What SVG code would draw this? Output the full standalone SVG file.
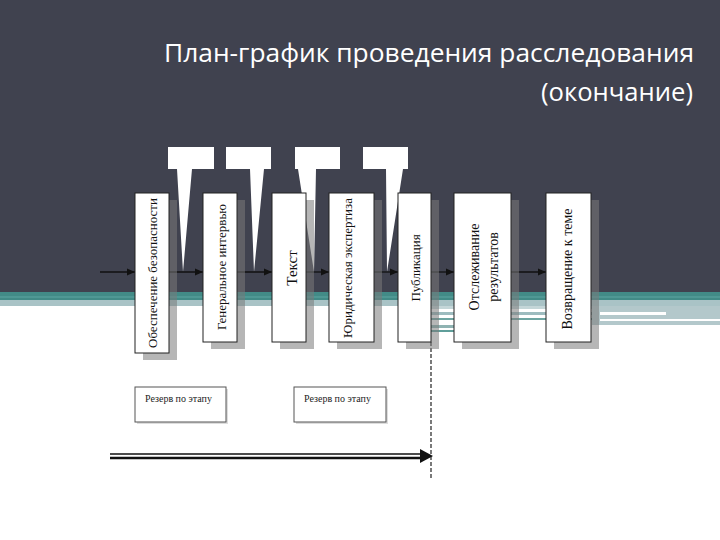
<svg xmlns="http://www.w3.org/2000/svg" width="720" height="540" viewBox="0 0 720 540">
<defs>
<marker id="ah" markerWidth="9" markerHeight="8" refX="8" refY="4" orient="auto" markerUnits="userSpaceOnUse">
<path d="M0,0.5 L8,4 L0,7.5 Z" fill="#111"/>
</marker>
<style>
.box{fill:#fff;stroke:#222;stroke-width:1}
.sh{fill:#7a7a7a;opacity:0.55}
.lbl{font-family:"Liberation Serif","Times New Roman",serif;font-size:13px;fill:#111;text-anchor:middle;dominant-baseline:central}
.co{fill:#fff}
.conn{stroke:#111;stroke-width:1.3;fill:none}
.res{fill:#fff;stroke:#555;stroke-width:1}
.rl{font-family:"Liberation Serif","Times New Roman",serif;font-size:10px;fill:#222}
</style>
</defs>
<rect width="720" height="540" fill="#fff"/>
<g id="background">
<rect x="0" y="0" width="720" height="292" fill="#40424f"/>
<rect x="0" y="292" width="720" height="8" fill="#428b87"/>
<rect x="0" y="296" width="720" height="2" fill="#4f9894"/>
<rect x="0" y="300" width="720" height="6" fill="#a9c3c6"/>
<rect x="431" y="306" width="161" height="3" fill="#c4d6d8"/>
<rect x="431" y="312" width="161" height="3" fill="#9dbcbf"/>
<rect x="431" y="318" width="161" height="2" fill="#6ea5a1"/>
<rect x="431" y="325" width="80" height="3" fill="#8fb3b2"/>
<rect x="431" y="330" width="80" height="2" fill="#5f9e9a"/>
<rect x="592" y="306" width="128" height="19" fill="#b3c8cb"/>
<rect x="600" y="312" width="66" height="3" fill="#fff"/>
<rect x="600" y="319" width="120" height="2" fill="#fff"/>
</g>
<g id="title" font-family="'Open Sans','DejaVu Sans',sans-serif" font-size="26" fill="#fff">
<text x="164" y="62" textLength="530" lengthAdjust="spacingAndGlyphs">План-график проведения расследования</text>
<text x="541" y="101" textLength="152" lengthAdjust="spacingAndGlyphs">(окончание)</text>
</g>
<g id="callouts">
<path class="co" d="M168,147 H214 V169 H192 L183,272 L177,169 H168 Z"/>
<path class="co" d="M226,147 H271 V169 H264 L254,272 L250,169 H226 Z"/>
<path class="co" d="M295,147 H340 V169 H316 L314,272 L298,169 H295 Z"/>
<path class="co" d="M363,147 H408 V169 H403 L387,272 L386,169 H363 Z"/>
</g>
<g id="connectors">
<line class="conn" x1="100" y1="272" x2="135" y2="272" marker-end="url(#ah)"/>
<line class="conn" x1="169" y1="272" x2="203" y2="272" marker-end="url(#ah)"/>
<line class="conn" x1="237" y1="272" x2="272" y2="272" marker-end="url(#ah)"/>
<line class="conn" x1="306" y1="272" x2="329" y2="272" marker-end="url(#ah)"/>
<line class="conn" x1="374" y1="272" x2="398" y2="272" marker-end="url(#ah)"/>
<line class="conn" x1="431" y1="272" x2="454" y2="272" marker-end="url(#ah)"/>
<line class="conn" x1="511" y1="272" x2="546" y2="272" marker-end="url(#ah)"/>
<line x1="431" y1="342" x2="431" y2="480" stroke="#222" stroke-width="1.2" stroke-dasharray="4 2"/>
<line x1="110" y1="454" x2="424" y2="454" stroke="#111" stroke-width="1.5"/>
<line x1="110" y1="458" x2="424" y2="458" stroke="#111" stroke-width="2.5"/>
<path d="M420,449 L433,456 L420,463 Z" fill="#111"/>
</g>
<g id="n1">
<rect class="sh" x="143" y="200" width="34" height="160"/>
<rect class="box" x="135" y="193" width="34" height="160"/>
<text class="lbl" transform="translate(152,273) rotate(-90)">Обеспечение безопасности</text>
</g>
<g id="n2">
<rect class="sh" x="211" y="200" width="34" height="149"/>
<rect class="box" x="203" y="193" width="34" height="149"/>
<text class="lbl" transform="translate(221,267) rotate(-90)">Генеральное интервью</text>
</g>
<g id="n3">
<rect class="sh" x="280" y="200" width="34" height="149"/>
<rect class="box" x="272" y="193" width="34" height="149"/>
<text class="lbl" style="font-size:15px" transform="translate(292,268) rotate(-90)">Текст</text>
</g>
<g id="n4">
<rect class="sh" x="337" y="200" width="45" height="149"/>
<rect class="box" x="329" y="193" width="45" height="149"/>
<text class="lbl" transform="translate(347,268) rotate(-90)">Юридическая экспертиза</text>
</g>
<g id="n5">
<rect class="sh" x="406" y="200" width="33" height="149"/>
<rect class="box" x="398" y="193" width="33" height="149"/>
<text class="lbl" transform="translate(415,268) rotate(-90)">Публикация</text>
</g>
<g id="n6">
<rect class="sh" x="462" y="200" width="57" height="149"/>
<rect class="box" x="454" y="193" width="57" height="149"/>
<text class="lbl" style="font-size:14px" transform="translate(474,267) rotate(-90)">Отслеживание</text>
<text class="lbl" style="font-size:14px" transform="translate(493,267) rotate(-90)">результатов</text>
</g>
<g id="n7">
<rect class="sh" x="554" y="200" width="45" height="149"/>
<rect class="box" x="546" y="193" width="45" height="149"/>
<text class="lbl" style="font-size:14px" transform="translate(567,269) rotate(-90)">Возвращение к теме</text>
</g>
<g id="r1">
<rect x="137" y="389" width="91" height="35" fill="#ddd"/>
<rect class="res" x="135" y="387" width="91" height="35"/>
<text class="rl" x="145" y="402">Резерв по этапу</text>
</g>
<g id="r2">
<rect x="296" y="389" width="92" height="35" fill="#ddd"/>
<rect class="res" x="294" y="387" width="92" height="35"/>
<text class="rl" x="304" y="402">Резерв по этапу</text>
</g>
</svg>
